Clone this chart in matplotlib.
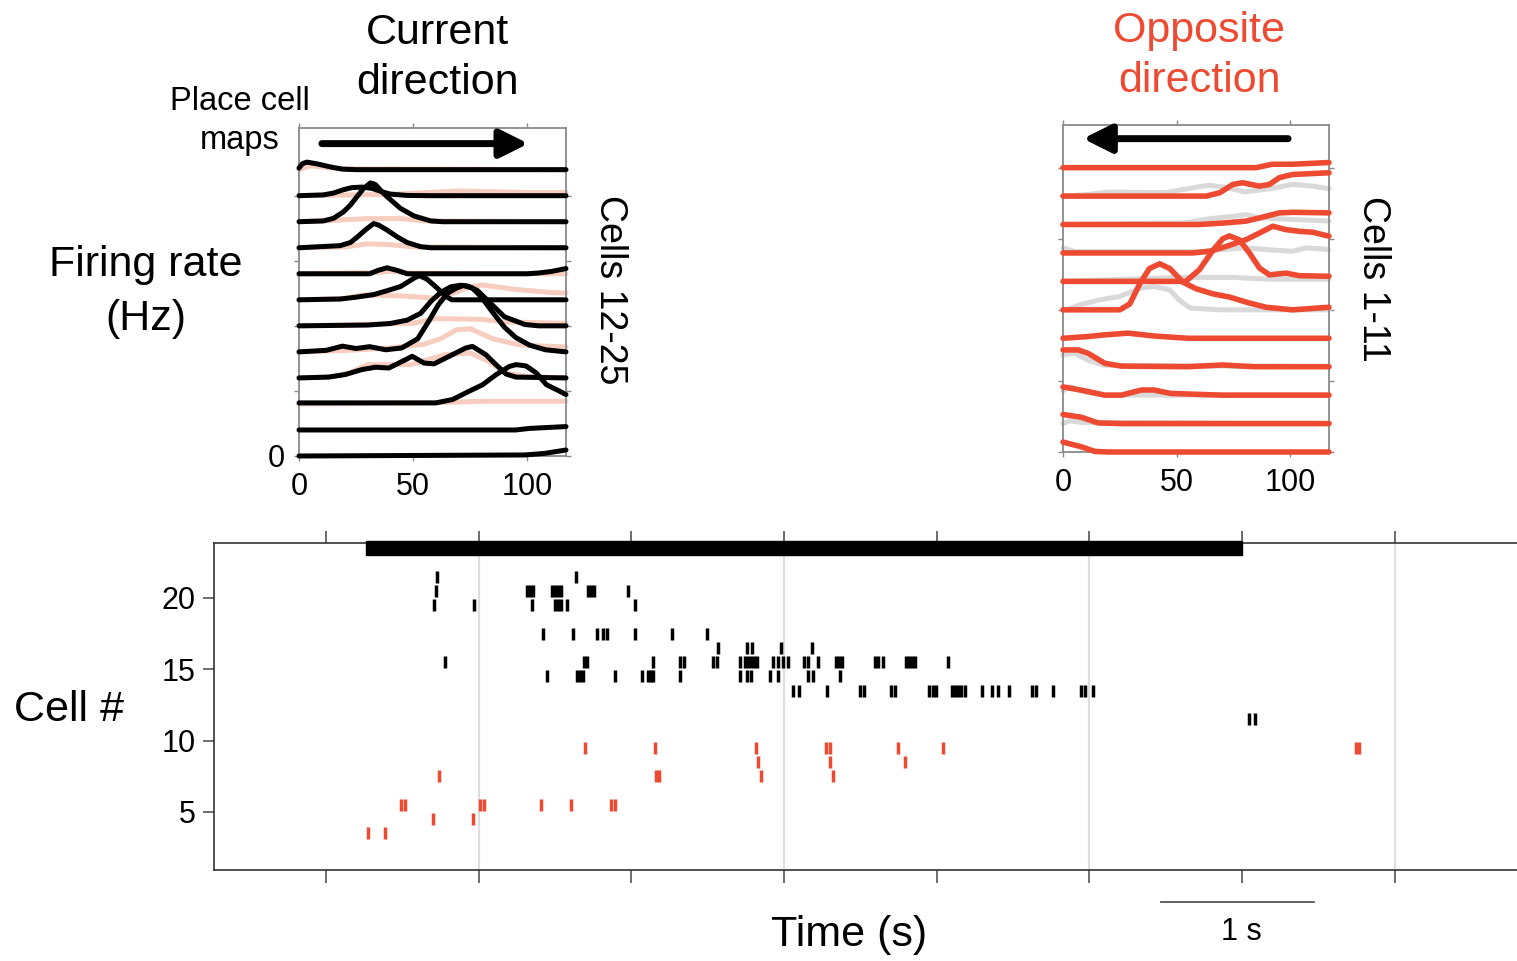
import matplotlib
matplotlib.use("Agg")
import matplotlib.pyplot as plt
from matplotlib.patches import Rectangle

plt.rcParams['font.family'] = ['Liberation Sans', 'DejaVu Sans']

RED = '#ee4a31'
PALE_RED = '#f6cdbf'
PALE_GREY = '#d9d9d9'
ROW_STEP = 10  # Hz offset between stacked rate maps

# ---------------------------------------------------------------------------
# Place-field rate maps: (position cm, rate Hz) pairs, listed bottom row first
# ---------------------------------------------------------------------------
# Cells 12-25, current running direction (black)
cur_c12 = [(0, 0), (99, 0.4), (107.6, 1.0), (117, 2.3)]
cur_c13 = [(0, 0), (95, 0), (101, 0.6), (117, 1.3)]
cur_c14 = [(0, 0.4), (60, 0.4), (67.3, 1.7), (74.6, 4.9), (80.5, 7.4), (86.3, 11.2),
           (92.2, 14.4), (95.1, 15.1), (99.5, 14.6), (104, 11.9), (108.4, 7.4),
           (114.2, 4.9), (117, 3.6)]
cur_c15 = [(0, 0), (12.9, 0.3), (20.3, 1.3), (27.6, 3.2), (33.5, 4.1), (39.4, 3.8),
           (46.7, 7.0), (49.6, 8.3), (54.8, 5.7), (59.2, 5.4), (65.8, 8.3),
           (73.1, 11.5), (76, 12.1), (81.9, 8.9), (86.3, 5.1), (90.7, 1.5),
           (95.1, 0.3), (117, 0)]
cur_c16 = [(0, 0), (12, 0.6), (19, 2.2), (25, 1.3), (31, 2.0), (38, 0.8), (45, 1.5),
           (52, 5), (57, 12), (61, 18), (65, 22.5), (69, 24.5), (72, 25.5),
           (76, 24.5), (80, 21), (85, 15), (90, 9.5), (95, 5.5), (101, 2.6),
           (108, 0.8), (117, 0)]
cur_c17 = [(0, 0), (30, 0.3), (40, 0.9), (47.4, 2.2), (53.3, 4.8), (57.7, 9.3),
           (62, 12.8), (66.5, 15), (70.9, 15.6), (74, 15.3), (78.3, 13.5),
           (84, 8.6), (90, 3.5), (99, 0.5), (105, 0), (117, 0)]
cur_c18 = [(0, 0), (18, 0.3), (25, 1.0), (32.7, 2.0), (38.6, 3.5), (44.5, 5.1),
           (48, 7.0), (50.4, 8.3), (52.6, 9.3), (56, 8.0), (60.6, 4.5), (64, 1.5),
           (67, 0), (117, 0)]
cur_c19 = [(0, 0), (31, 0), (34.6, 1.3), (38.6, 2.3), (43, 1.3), (47.4, 0),
           (100, 0), (105, 0.3), (110.6, 0.9), (117, 2.0)]
cur_c20 = [(0, 0), (18, 0.8), (22.5, 2.0), (25.4, 4.0), (29, 6.8), (32.7, 9.3),
           (34.9, 8.7), (38.6, 6.8), (43, 4.2), (47.4, 2.0), (53.3, 0.4),
           (57.7, 0), (117, 0)]
cur_c21 = [(0, 0), (10.7, 0.3), (15.1, 1.3), (19.5, 3.8), (22.5, 6.4), (25.4, 9.6),
           (28.3, 12.8), (31.3, 14.9), (33.5, 14.3), (35.7, 12.1), (38.6, 9.6),
           (44.5, 5.1), (50.4, 2.2), (57.7, 0.3), (63, 0), (117, 0)]
cur_c22 = [(0, 0), (10.7, 0.3), (15.1, 1.0), (19.5, 2.3), (23.2, 3.1), (27.6, 3.3),
           (32, 2.8), (36.4, 1.5), (40, 0.6), (47.4, 0.1), (57.7, 0), (117, 0)]
cur_c23 = [(0, 0.6), (1.5, 2.3), (3.5, 2.9), (8, 2.2), (14, 1.0), (19, 0.2),
           (25, 0), (117, 0)]
current_maps = [cur_c12, cur_c13, cur_c14, cur_c15, cur_c16, cur_c17,
                cur_c18, cur_c19, cur_c20, cur_c21, cur_c22, cur_c23]

# Same cells, opposite direction (pale red, behind)
cur_opp_c14 = [(0, 0), (60, 0.5), (80, 1.0), (117, 1.0)]
cur_opp_c15 = [(0, 0), (15, 0.5), (22, 1.9), (30, 5.1), (49, 5.1), (64, 8.9),
               (75, 9.6), (83, 6.4), (90, 2.0), (100, 0.5), (117, 0)]
cur_opp_c16 = [(0, 0), (20, 0.5), (40, 1.5), (55, 3.0), (62, 5.0), (69, 8.5),
               (75, 8.9), (85, 5.0), (97, 2.6), (117, 1.9)]
cur_opp_c17 = [(0, 0), (50, 1.0), (60, 2.8), (80, 2.5), (90, 1.5), (117, 1.0)]
cur_opp_c18 = [(0, 0), (20, 0.5), (28, 1.9), (45, 1.5), (60, 0.6), (66, 2.0),
               (75, 5.0), (80, 5.7), (95, 4.0), (110, 2.8), (117, 2.6)]
cur_opp_c19 = [(0, 0), (35, 0.5), (40, 1.0), (50, 0.2), (117, 0)]
cur_opp_c20 = [(0, 0), (20, 0.3), (30, 1.5), (40, 1.2), (50, 0.3), (117, 0)]
cur_opp_c21 = [(0, 0), (15, 0.5), (30, 1.2), (45, 1.2), (55, 0.3), (117, 0)]
cur_opp_c22 = [(0, 0), (40, 0.5), (55, 1.2), (70, 1.8), (85, 1.5), (100, 1.2), (117, 1.2)]
cur_opp_c23 = [(0, 0), (5, 1.5), (10, 1.0), (20, 0.3), (117, 0)]
current_opp_maps = [None, None, cur_opp_c14, cur_opp_c15, cur_opp_c16, cur_opp_c17,
                    cur_opp_c18, cur_opp_c19, cur_opp_c20, cur_opp_c21,
                    cur_opp_c22, cur_opp_c23]

# Cells 1-11, opposite running direction (red)
opp_c1 = [(0, 3.5), (8.2, 1.8), (14, 0.2), (20, 0), (117, 0)]
opp_c2 = [(0, 3.2), (8.2, 2.2), (15.5, 0.2), (25.7, 0), (117, 0)]
opp_c3 = [(0, 2.9), (9.6, 1.5), (18.4, 0), (25.7, 0), (34.5, 1.8), (40, 1.8),
          (47.4, 0.6), (69.6, 0), (117, 0)]
opp_c4 = [(0, 5.9), (6.7, 5.9), (11, 4.7), (18.4, 1.2), (25.7, 0.2), (55, 0),
          (70, 0.6), (84, 0), (117, 0)]
opp_c5 = [(0, 0), (11, 0.6), (18.4, 1.2), (28.6, 1.8), (40, 0.8), (55, 0), (117, 0)]
opp_c6 = [(0, 0), (25, 0), (29.4, 2.1), (33.8, 9.2), (38, 14.5), (42.5, 16.2),
          (47, 14.5), (52.8, 9.7), (58.6, 7.4), (66, 5.6), (73.2, 4.5),
          (80.6, 2.7), (89.3, 0.9), (101, 0), (117, 0.9)]
opp_c7 = [(0, 0), (54, 0), (60, 4.1), (66, 11), (70.3, 15), (73.2, 16), (77.6, 14.6),
          (82, 10), (86.4, 4.7), (90.8, 2.3), (98.1, 2.9), (104, 2.0), (117, 1.8)]
opp_c8 = [(0, 0), (57, 0), (64.5, 0.6), (71.8, 2.3), (80.6, 4.7), (86.4, 7.0),
          (92.3, 9.4), (98.1, 8.2), (104, 7.6), (109.8, 7.3), (117, 5.9)]
opp_c9 = [(0, 0), (60, 0), (71.8, 0.6), (80.6, 1.2), (89.3, 2.9), (95.2, 4.1),
          (101, 4.3), (117, 4.1)]
opp_c10 = [(0, 0), (63, 0), (69, 1.2), (74.7, 4.1), (79, 4.7), (86.4, 3.5),
           (90.8, 4.1), (95.2, 6.5), (101, 7.6), (117, 8.2)]
opp_c11 = [(0, 0), (85, 0), (92, 1.2), (101, 1.2), (117, 1.8)]
opposite_maps = [opp_c1, opp_c2, opp_c3, opp_c4, opp_c5, opp_c6,
                 opp_c7, opp_c8, opp_c9, opp_c10, opp_c11]

# Same cells, current direction (grey, behind)
opp_cur_c2 = [(0, 0), (3, 1.0), (8, 0.4), (117, 0)]
opp_cur_c3 = [(0, 1.5), (3, 3.0), (10, 1.0), (18, 0), (117, 0)]
opp_cur_c4 = [(0, 4.1), (5, 4.7), (11, 2.3), (18, 0.5), (117, 0)]
opp_cur_c6 = [(1.6, 0), (7.5, 1.8), (16, 3.5), (25, 4.7), (34, 7.6), (40, 8.2),
              (47, 7.0), (51, 3.5), (56, 0.6), (69, 0), (117, 0)]
opp_cur_c7 = [(0, 0), (50, 1.4), (75, 1.4), (90, 0.8), (117, 0.8)]
opp_cur_c8 = [(0, 1.8), (5, 0.5), (60, 0.5), (80, 1.8), (89, 1.2), (101, 0.6),
              (107, 1.8), (117, 1.2)]
opp_cur_c9 = [(0, 0), (54, 0.6), (63, 1.9), (74.7, 2.9), (80.6, 3.5), (86.4, 2.3),
              (101, 1.8), (117, 1.2)]
opp_cur_c10 = [(0, 0), (10, 0.5), (20, 1.4), (45, 1.2), (60, 3.3), (64.5, 3.8),
               (72, 3.0), (80, 1.5), (90, 2.5), (101, 4.1), (110, 3.5), (117, 2.6)]
opposite_cur_maps = [None, opp_cur_c2, opp_cur_c3, opp_cur_c4, None, opp_cur_c6,
                     opp_cur_c7, opp_cur_c8, opp_cur_c9, opp_cur_c10, None]

# ---------------------------------------------------------------------------
# Spike raster (times in s)
# ---------------------------------------------------------------------------
run_epoch = (0.26, 6.0)

black_rows = [21, 20, 19, 17, 16, 15, 14, 13, 11]
black_spikes = [
    [0.727, 1.637],
    [0.720, 1.316, 1.336, 1.356, 1.480, 1.500, 1.519, 1.539, 1.716, 1.735, 1.755, 1.978],
    [0.707, 0.969, 1.349, 1.500, 1.519, 1.539, 1.578, 2.024],
    [1.421, 1.618, 1.775, 1.814, 1.840, 2.024, 2.266, 2.495],
    [2.567, 2.757, 2.790, 2.980, 3.183],
    [0.779, 1.690, 1.709, 2.141, 2.318, 2.344, 2.534, 2.561, 2.711, 2.744, 2.764,
     2.783, 2.803, 2.822, 2.927, 2.960, 2.993, 3.026, 3.130, 3.157, 3.222, 3.340,
     3.360, 3.379, 3.595, 3.615, 3.648, 3.798, 3.818, 3.838, 3.857, 4.073],
    [1.447, 1.644, 1.663, 1.683, 1.893, 2.069, 2.109, 2.128, 2.141, 2.318, 2.711,
     2.757, 2.783, 2.908, 2.960, 3.157, 3.189, 3.366],
    [3.058, 3.098, 3.281, 3.497, 3.523, 3.700, 3.726, 3.949, 3.975, 3.995, 4.100,
     4.119, 4.139, 4.159, 4.185, 4.296, 4.362, 4.401, 4.473, 4.623, 4.650, 4.761,
     4.944, 4.971, 5.023],
    [6.045, 6.084],
]

red_rows = [9, 8, 7, 5, 4, 3]
red_spikes = [
    [1.696, 2.155, 2.816, 3.274, 3.301, 3.746, 4.041, 6.745, 6.765],
    [2.829, 3.301, 3.792],
    [0.740, 2.161, 2.181, 2.849, 3.320],
    [0.491, 0.517, 1.009, 1.035, 1.408, 1.604, 1.866, 1.893],
    [0.701, 0.963],
    [0.275, 0.386],
]

# ---------------------------------------------------------------------------
W, H = 1517, 961
fig = plt.figure(figsize=(W / 100, H / 100), dpi=100)


def box(left, top, right, bottom):
    return [left / W, 1 - bottom / H, (right - left) / W, (bottom - top) / H]


def draw_stack(ax, maps, color, lw, z):
    for row, pts in enumerate(maps):
        if pts is None:
            continue
        xs = [p[0] for p in pts]
        ys = [p[1] + row * ROW_STEP for p in pts]
        ax.plot(xs, ys, color=color, lw=lw, solid_capstyle='round',
                solid_joinstyle='round', clip_on=False, zorder=z)


def style_map_axes(ax, ylim, label_zero):
    ax.set_xlim(0, 117)
    ax.set_ylim(*ylim)
    for s in ax.spines.values():
        s.set_color('#8a8a8a')
        s.set_linewidth(1.3)
    ax.set_xticks([0, 50, 100])
    ax.set_yticks([0, 25, 50, 75, 100])
    ax.set_yticklabels(['0' if label_zero else '', '', '', '', ''])
    ax.tick_params(axis='both', direction='out', length=3.5, width=1.0,
                   color='#8a8a8a', labelsize=22, top=True, right=True,
                   labeltop=False, labelright=False)
    ax.tick_params(axis='x', pad=8)
    ax.tick_params(axis='y', pad=7)


# Left: current direction
ax_l = fig.add_axes(box(299, 128, 566, 456))
style_map_axes(ax_l, (0, 126), True)
draw_stack(ax_l, current_opp_maps, PALE_RED, 3.6, 2)
draw_stack(ax_l, current_maps, 'black', 3.6, 3)
ax_l.annotate('', xy=(100.5, 120), xytext=(10, 120),
              arrowprops=dict(arrowstyle='-|>,head_length=17,head_width=8.5',
                              mutation_scale=1, lw=5, color='black',
                              shrinkA=0, shrinkB=0))

# Right: opposite direction
ax_o = fig.add_axes(box(1063, 125, 1329, 452))
style_map_axes(ax_o, (0, 115), False)
draw_stack(ax_o, opposite_cur_maps, PALE_GREY, 3.6, 2)
draw_stack(ax_o, opposite_maps, RED, 4.0, 3)
ax_o.annotate('', xy=(8.8, 110.2), xytext=(99, 110.2),
              arrowprops=dict(arrowstyle='-|>,head_length=17,head_width=8.5',
                              mutation_scale=1, lw=5, color='black',
                              shrinkA=0, shrinkB=0))

# Raster
ax_r = fig.add_axes(box(214, 543, 1530, 870))
ax_r.set_xlim(-0.7335, 7.885)
ax_r.set_ylim(0.935, 23.85)
for t in (1, 3, 5, 7):
    ax_r.axvline(t, color='#dedede', lw=1.6, zorder=0)
for row, times in zip(black_rows, black_spikes):
    ax_r.vlines(times, row + 0.08, row + 0.92, color='black', lw=2.5, zorder=3)
for row, times in zip(red_rows, red_spikes):
    ax_r.vlines(times, row + 0.08, row + 0.92, color=RED, lw=2.5, zorder=3)
ax_r.add_patch(Rectangle((run_epoch[0], 23.0), run_epoch[1] - run_epoch[0], 1.0,
                         color='black', clip_on=False, zorder=4))
ax_r.spines['right'].set_visible(False)
for side in ('left', 'top', 'bottom'):
    ax_r.spines[side].set_color('#333333')
    ax_r.spines[side].set_linewidth(1.2)
ax_r.set_xticks(range(8))
ax_r.set_xticklabels([])
ax_r.set_yticks([5, 10, 15, 20])
ax_r.tick_params(axis='x', direction='out', length=9, width=1.2, color='#555555',
                 top=True, bottom=True)
ax_r.tick_params(axis='y', direction='out', length=8, width=1.2, color='#555555',
                 labelsize=22, pad=5)

# 1 s scale bar
ax_r.plot([5.468, 6.468], [-1.31, -1.31], color='#555555', lw=1.3, clip_on=False)
fig.text(1241 / W, 1 - 932 / H, '1 s', ha='center', va='center', fontsize=22)

# Labels
fig.text(438 / W, 1 - 58 / H, 'Current\ndirection', ha='center', va='center',
         fontsize=31, linespacing=1.3)
fig.text(1199 / W, 1 - 56 / H, 'Opposite\ndirection', ha='center', va='center',
         fontsize=31, linespacing=1.3, color=RED)
fig.text(240 / W, 1 - 121 / H, 'Place cell\nmaps', ha='center', va='center',
         fontsize=23.5, linespacing=1.3)
fig.text(146 / W, 1 - 292 / H, 'Firing rate\n(Hz)', ha='center', va='center',
         fontsize=31, linespacing=1.42)
fig.text(610 / W, 1 - 290 / H, 'Cells 12-25', ha='center', va='center',
         fontsize=27, rotation=-90)
fig.text(1373 / W, 1 - 279 / H, 'Cells 1-11', ha='center', va='center',
         fontsize=27, rotation=-90)
fig.text(14 / W, 1 - 710 / H, 'Cell #', ha='left', va='center', fontsize=31)
fig.text(849 / W, 1 - 935 / H, 'Time (s)', ha='center', va='center', fontsize=31)

fig.savefig('out.png', dpi=100, facecolor='white')
